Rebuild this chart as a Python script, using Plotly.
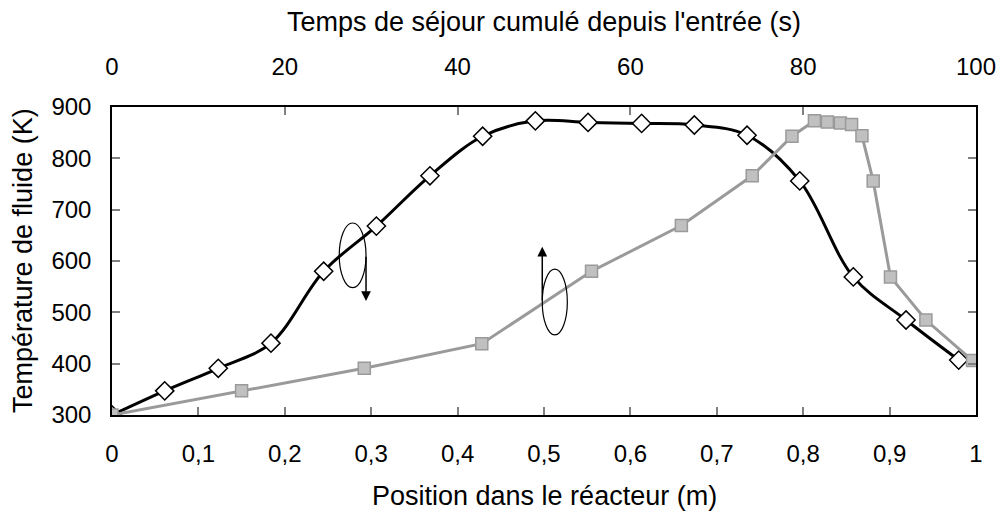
import plotly.graph_objects as go

# Fluid temperature along the reactor (bottom axis: position in m)
position_m = [0, 0.061, 0.123, 0.184, 0.245, 0.306, 0.368, 0.429, 0.49,
              0.551, 0.613, 0.674, 0.735, 0.796, 0.858, 0.919, 0.98]
temp_vs_position = [300, 347, 391, 440, 580, 668, 766, 843, 873,
                    870, 868, 865, 845, 756, 569, 485, 407]

# Same temperatures against cumulative residence time (top axis: s)
residence_s = [0, 15.0, 29.2, 42.8, 55.5, 65.9, 74.1, 78.7, 81.3,
               82.8, 84.3, 85.6, 86.8, 88.1, 90.1, 94.2, 99.6]
temp_vs_time = [300, 347, 391, 439, 580, 669, 766, 843, 873,
                871, 869, 866, 844, 756, 569, 485, 406]

bottom_ticks = [0, 0.1, 0.2, 0.3, 0.4, 0.5, 0.6, 0.7, 0.8, 0.9, 1]
bottom_ticktext = ["0", "0,1", "0,2", "0,3", "0,4", "0,5", "0,6", "0,7", "0,8", "0,9", "1"]
top_ticks = [0, 20, 40, 60, 80, 100]
left_ticks = [300, 400, 500, 600, 700, 800, 900]

FONT = "Liberation Sans, Arial, sans-serif"
FS = 24        # tick labels
FS_TITLE = 27  # axis titles
GREY_LINE = "#9a9a9a"
GREY_FILL = "#c0c0c0"

fig = go.Figure()

# grey curve (time axis), line only
fig.add_trace(go.Scatter(
    x=residence_s, y=temp_vs_time, xaxis="x2", yaxis="y",
    mode="lines", line=dict(color=GREY_LINE, width=3),
    showlegend=False, hoverinfo="skip"))

# black smoothed curve (position axis)
fig.add_trace(go.Scatter(
    x=position_m, y=temp_vs_position, mode="lines",
    line=dict(color="black", width=3, shape="spline", smoothing=1.0),
    showlegend=False, hoverinfo="skip"))

# open diamonds on the black curve
fig.add_trace(go.Scatter(
    x=position_m, y=temp_vs_position, mode="markers",
    marker=dict(symbol="diamond", size=14, color="white",
                line=dict(color="black", width=1.5)),
    showlegend=False))

# grey squares on the time curve
fig.add_trace(go.Scatter(
    x=residence_s, y=temp_vs_time, xaxis="x2", yaxis="y", mode="markers",
    marker=dict(symbol="square", size=12, color=GREY_FILL,
                line=dict(color=GREY_LINE, width=1.5)),
    showlegend=False))

# ellipses marking which axis each curve uses
shapes = [
    dict(type="circle", xref="x", yref="y", x0=0.263, x1=0.294, y0=548, y1=674,
         line=dict(color="black", width=1.2)),
    dict(type="circle", xref="x", yref="y", x0=0.498, x1=0.527, y0=456, y1=584,
         line=dict(color="black", width=1.2)),
]

annotations = [
    dict(x=0.294, y=522, ax=0.294, ay=611, xref="x", yref="y", axref="x", ayref="y",
         text="", showarrow=True, arrowhead=2, arrowsize=1.3, arrowwidth=1.5,
         arrowcolor="black"),
    dict(x=0.498, y=628, ax=0.498, ay=520, xref="x", yref="y", axref="x", ayref="y",
         text="", showarrow=True, arrowhead=2, arrowsize=1.3, arrowwidth=1.5,
         arrowcolor="black"),
    # axis titles
    dict(text="Position dans le réacteur (m)", xref="paper", yref="paper",
         x=0.5, y=-0.264, yanchor="middle", xanchor="center", showarrow=False,
         font=dict(family=FONT, size=FS_TITLE, color="black")),
    dict(text="Temps de séjour cumulé depuis l'entrée (s)", xref="paper", yref="paper",
         x=0.5, y=1.276, yanchor="middle", xanchor="center", showarrow=False,
         font=dict(family=FONT, size=FS_TITLE, color="black")),
    dict(text="Température de fluide (K)", xref="paper", yref="paper",
         x=-0.103, y=0.5, yanchor="middle", xanchor="center", showarrow=False,
         textangle=-90, font=dict(family=FONT, size=FS_TITLE, color="black")),
]

tick_style = dict(ticks="inside", ticklen=8, tickwidth=1.5, tickcolor="#808080",
                  showgrid=False, zeroline=False, linecolor="black", linewidth=1.5,
                  tickfont=dict(family=FONT, size=FS, color="black"))

fig.update_layout(
    width=1008, height=513,
    margin=dict(l=112, r=26, t=107, b=98),
    paper_bgcolor="white", plot_bgcolor="white",
    font=dict(family=FONT, size=FS, color="black"),
    shapes=shapes, annotations=annotations,
    xaxis=dict(range=[0, 1], tickvals=bottom_ticks, ticktext=bottom_ticktext,
               showline=True, mirror=True, ticklabelstandoff=16, **tick_style),
    xaxis2=dict(range=[0, 100], tickvals=top_ticks, overlaying="x", side="top",
                showline=False, ticklabelstandoff=26, **tick_style),
    yaxis=dict(range=[300, 900], tickvals=left_ticks, showline=True, mirror="ticks",
               ticklabelstandoff=14, **tick_style),
)

fig.write_html("out.html")
